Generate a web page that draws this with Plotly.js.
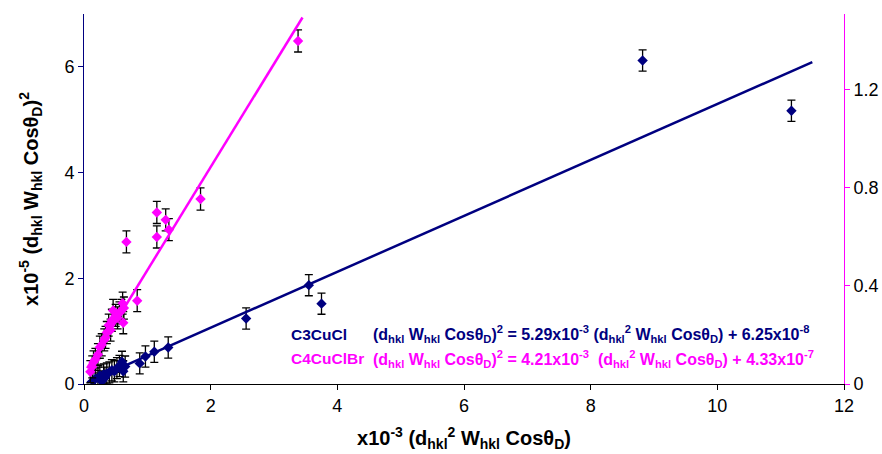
<!DOCTYPE html>
<html>
<head>
<meta charset="utf-8">
<script src="https://cdn.plot.ly/plotly-3.0.1.min.js"></script>
<style>html,body{margin:0;padding:0;background:#fff}#chart{width:882px;height:454px}</style>
</head>
<body>
<div id="chart"></div>
<script>
// C3CuCl (left axis, units of 1e-3 for x and 1e-5 for y)
const c3x = [0.14, 0.18, 0.22, 0.25, 0.28, 0.31, 0.33, 0.36, 0.40, 0.44, 0.48, 0.52, 0.56, 0.60, 0.62, 0.65, 0.88, 0.97, 1.11, 1.33, 2.56, 3.55, 3.75, 8.82, 11.17];
const c3y = [0.06, 0.10, 0.12, 0.16, 0.05, 0.18, 0.12, 0.20, 0.22, 0.26, 0.24, 0.30, 0.34, 0.42, 0.24, 0.33, 0.39, 0.52, 0.61, 0.69, 1.24, 1.87, 1.52, 6.12, 5.17];
const c3err = 0.2;
// C4CuClBr (right axis)
const c4x = [0.10, 0.13, 0.15, 0.18, 0.22, 0.25, 0.28, 0.32, 0.34, 0.36, 0.39, 0.42, 0.44, 0.46, 0.50, 0.53, 0.56, 0.59, 0.61, 0.62, 0.63, 0.67, 0.84, 1.15, 1.15, 1.29, 1.34, 1.84, 3.38];
const c4y = [0.05, 0.07, 0.09, 0.10, 0.12, 0.15, 0.16, 0.18, 0.19, 0.21, 0.24, 0.22, 0.26, 0.30, 0.28, 0.27, 0.29, 0.30, 0.33, 0.25, 0.31, 0.58, 0.34, 0.70, 0.60, 0.67, 0.63, 0.755, 1.40];
const c4err = 0.045;
// linear fits: y = slope * x + intercept (SI values)
const fitSlope = [5.29e-3, 4.21e-3];
const fitIntercept = [6.25e-8, 4.33e-7];
const fitXRange = [[0.05, 11.5], [0.05, 3.45]];
const seriesNames = ['C3CuCl', 'C4CuClBr'];
const xTicks = [0, 2, 4, 6, 8, 10, 12];
const yTicks = [0, 2, 4, 6];
const y2Ticks = [0, 0.4, 0.8, 1.2];

const navy = '#000080', mag = '#FF00FF';
const fitLine = (i) => {
  const xs = fitXRange[i];
  const ys = xs.map(x => (fitSlope[i] * x * 1e-3 + fitIntercept[i]) / 1e-5);
  return {xs, ys};
};
const f0 = fitLine(0), f1 = fitLine(1);
const eb = (v) => ({type: 'constant', value: v, color: '#000', thickness: 1.3, width: 4});

const traces = [
  {x: c3x, y: c3y, type: 'scatter', mode: 'markers', name: seriesNames[0],
   marker: {symbol: 'diamond', size: 8, color: navy}, error_y: eb(c3err), xaxis: 'x', yaxis: 'y'},
  {x: f0.xs, y: f0.ys, type: 'scatter', mode: 'lines', line: {color: navy, width: 2.5}, xaxis: 'x', yaxis: 'y'},
  {x: c4x, y: c4y, type: 'scatter', mode: 'markers', name: seriesNames[1],
   marker: {symbol: 'diamond', size: 8, color: mag}, error_y: eb(c4err), xaxis: 'x', yaxis: 'y2'},
  {x: f1.xs, y: f1.ys, type: 'scatter', mode: 'lines', line: {color: mag, width: 2.5}, xaxis: 'x', yaxis: 'y2'}
];

const eq1 = '<b>(d<sub>hkl</sub> W<sub>hkl</sub> Cosθ<sub>D</sub>)<sup>2</sup> = 5.29x10<sup>-3</sup> (d<sub>hkl</sub><sup>2</sup> W<sub>hkl</sub> Cosθ<sub>D</sub>) + 6.25x10<sup>-8</sup></b>';
const eq2 = '<b>(d<sub>hkl</sub> W<sub>hkl</sub> Cosθ<sub>D</sub>)<sup>2</sup> = 4.21x10<sup>-3</sup>&nbsp; (d<sub>hkl</sub><sup>2</sup> W<sub>hkl</sub> Cosθ<sub>D</sub>) + 4.33x10<sup>-7</sup></b>';
const annFont = (c, s) => ({family: 'Liberation Sans, Arial, sans-serif', size: s, color: c});

const layout = {
  width: 882, height: 454,
  margin: {l: 84, r: 38, t: 14, b: 70},
  paper_bgcolor: '#fff', plot_bgcolor: '#fff',
  showlegend: false,
  font: {family: 'Liberation Sans, Arial, sans-serif', size: 18, color: '#000'},
  xaxis: {range: [0, 12], tickvals: xTicks, ticks: 'outside', ticklen: 5, tickcolor: '#000',
    showline: true, linecolor: '#000', linewidth: 1, showgrid: false, zeroline: false,
    tickfont: {size: 18},
    title: {text: '<b>x10<sup>-3</sup> (d<sub>hkl</sub><sup>2</sup> W<sub>hkl</sub> Cosθ<sub>D</sub>)</b>', font: {size: 20}, standoff: 16}},
  yaxis: {range: [0, 7], tickvals: yTicks, ticks: 'outside', ticklen: 5, tickcolor: navy,
    showline: true, linecolor: navy, linewidth: 1, showgrid: false, zeroline: false,
    tickfont: {size: 18},
    title: {text: '<b>x10<sup>-5</sup> (d<sub>hkl</sub> W<sub>hkl</sub> Cosθ<sub>D</sub>)<sup>2</sup></b>', font: {size: 20}, standoff: 20}},
  yaxis2: {range: [0, 1.51], tickvals: y2Ticks, ticktext: ['0', '0.4', '0.8', '1.2'], overlaying: 'y', side: 'right',
    ticks: 'outside', ticklen: 5, tickcolor: mag,
    showline: true, linecolor: mag, linewidth: 1, showgrid: false, zeroline: false, tickfont: {size: 18}},
  annotations: [
    {xref: 'paper', yref: 'paper', x: 0.270, y: 0.135, xanchor: 'left', yanchor: 'middle', showarrow: false,
     text: '<b>' + seriesNames[0] + '</b>', font: annFont(navy, 15.5)},
    {xref: 'paper', yref: 'paper', x: 0.378, y: 0.135, xanchor: 'left', yanchor: 'middle', showarrow: false,
     text: eq1, font: annFont(navy, 16)},
    {xref: 'paper', yref: 'paper', x: 0.270, y: 0.068, xanchor: 'left', yanchor: 'middle', showarrow: false,
     text: '<b>' + seriesNames[1] + '</b>', font: annFont(mag, 15.5)},
    {xref: 'paper', yref: 'paper', x: 0.378, y: 0.068, xanchor: 'left', yanchor: 'middle', showarrow: false,
     text: eq2, font: annFont(mag, 16)}
  ]
};
Plotly.newPlot('chart', traces, layout, {displayModeBar: false, staticPlot: true});
</script>
</body>
</html>
